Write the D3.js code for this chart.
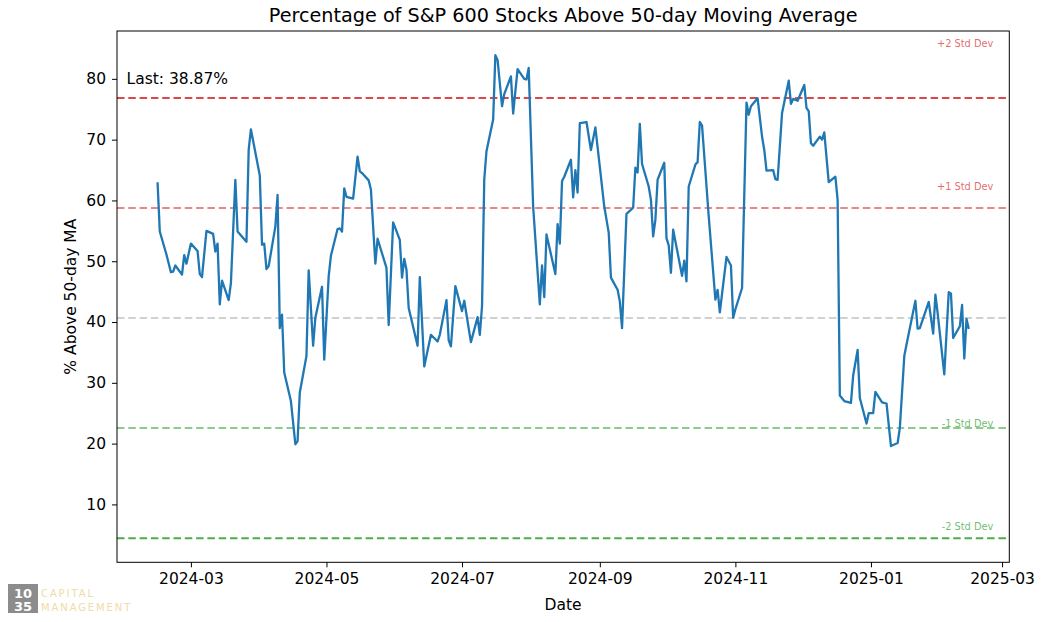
<!DOCTYPE html>
<html>
<head>
<meta charset="utf-8">
<script src="https://cdn.jsdelivr.net/npm/d3@7"></script>
<style>
  body { margin: 0; background: #fff; }
  svg text { font-family: "DejaVu Sans", sans-serif; }
</style>
</head>
<body>
<div class="graph"></div>
<script>
// values
const dates = [
  "2024-02-15","2024-02-16","2024-02-19","2024-02-21","2024-02-22","2024-02-23","2024-02-26","2024-02-27","2024-02-28",
  "2024-03-01","2024-03-04","2024-03-05","2024-03-06","2024-03-08","2024-03-11","2024-03-12","2024-03-13","2024-03-14",
  "2024-03-15","2024-03-18","2024-03-19","2024-03-21","2024-03-22","2024-03-26","2024-03-27","2024-03-28",
  "2024-04-01","2024-04-02","2024-04-03","2024-04-04","2024-04-05","2024-04-08","2024-04-09","2024-04-10","2024-04-11",
  "2024-04-12","2024-04-15","2024-04-17","2024-04-18","2024-04-19","2024-04-22","2024-04-23","2024-04-25","2024-04-26",
  "2024-04-29","2024-04-30","2024-05-02","2024-05-03","2024-05-06","2024-05-07","2024-05-08","2024-05-09","2024-05-10",
  "2024-05-13","2024-05-15","2024-05-16","2024-05-17","2024-05-20","2024-05-21","2024-05-23","2024-05-24","2024-05-28",
  "2024-05-29","2024-05-31","2024-06-03","2024-06-04","2024-06-05","2024-06-06","2024-06-07","2024-06-11","2024-06-12",
  "2024-06-14","2024-06-17","2024-06-20","2024-06-21","2024-06-24","2024-06-25","2024-06-26","2024-06-28",
  "2024-07-01","2024-07-02","2024-07-05","2024-07-08","2024-07-09","2024-07-10","2024-07-11","2024-07-12","2024-07-15",
  "2024-07-16","2024-07-17","2024-07-19","2024-07-20","2024-07-23","2024-07-24","2024-07-26","2024-07-29","2024-07-30",
  "2024-07-31","2024-08-02","2024-08-05","2024-08-06","2024-08-07","2024-08-08","2024-08-12","2024-08-13","2024-08-14",
  "2024-08-15","2024-08-16","2024-08-19","2024-08-20","2024-08-21","2024-08-22","2024-08-23","2024-08-26","2024-08-28",
  "2024-08-30","2024-09-03","2024-09-05","2024-09-06","2024-09-09","2024-09-10","2024-09-11","2024-09-13","2024-09-16",
  "2024-09-17","2024-09-18","2024-09-19","2024-09-20","2024-09-23","2024-09-24","2024-09-25","2024-09-26","2024-09-27",
  "2024-09-30","2024-10-01","2024-10-02","2024-10-03","2024-10-04","2024-10-08","2024-10-09","2024-10-10","2024-10-11",
  "2024-10-14","2024-10-15","2024-10-16","2024-10-17","2024-10-20","2024-10-23","2024-10-24","2024-10-25","2024-10-28",
  "2024-10-30","2024-10-31","2024-11-01","2024-11-04","2024-11-06","2024-11-07","2024-11-08","2024-11-11","2024-11-13",
  "2024-11-14","2024-11-15","2024-11-18","2024-11-19","2024-11-20","2024-11-22","2024-11-25","2024-11-26","2024-11-27",
  "2024-11-29","2024-12-02","2024-12-03","2024-12-04","2024-12-05","2024-12-06","2024-12-09","2024-12-10","2024-12-11",
  "2024-12-13","2024-12-16","2024-12-17","2024-12-18","2024-12-20","2024-12-23","2024-12-24","2024-12-26","2024-12-27",
  "2024-12-30","2024-12-31","2025-01-02","2025-01-03","2025-01-06","2025-01-08","2025-01-10","2025-01-13","2025-01-14",
  "2025-01-16","2025-01-17","2025-01-21","2025-01-22","2025-01-23","2025-01-27","2025-01-29","2025-01-30","2025-01-31",
  "2025-02-03","2025-02-05","2025-02-06","2025-02-07","2025-02-10","2025-02-11","2025-02-12","2025-02-13","2025-02-14"
];
const pctAbove = [
  63.0,54.9,51.1,48.2,48.3,49.3,47.8,51.0,49.6,
  52.9,51.7,47.9,47.4,55.0,54.5,51.6,52.9,42.9,
  46.8,43.6,46.4,63.4,54.9,53.2,68.3,71.7,
  64.1,52.7,52.9,48.7,49.2,55.7,60.9,39.0,41.2,
  31.7,27.0,19.9,20.4,28.4,34.4,48.5,36.1,40.7,
  45.8,33.8,47.5,50.9,55.3,55.4,54.9,62.0,60.6,
  60.3,67.2,64.8,64.5,63.3,61.8,49.6,53.7,48.9,
  39.5,56.4,53.5,47.3,50.4,48.6,42.3,36.1,47.4,
  32.7,37.9,36.8,37.9,43.6,37.0,36.0,45.9,
  41.8,43.5,36.7,40.8,37.9,42.6,63.4,68.1,73.3,
  83.9,83.1,75.5,77.5,80.4,74.3,81.6,80.0,79.9,
  81.8,59.0,42.9,49.3,44.1,54.4,47.9,56.1,52.9,
  63.2,63.9,66.7,60.5,65.0,61.3,72.7,72.9,68.3,
  72.0,59.0,54.7,47.3,45.3,43.4,39.0,57.8,58.8,
  65.4,64.6,72.6,66.0,62.3,60.1,54.1,56.8,63.4,
  66.2,53.8,52.6,48.1,55.2,47.6,50.1,46.7,62.3,
  65.9,66.3,72.9,72.3,57.4,43.7,45.3,41.6,50.7,
  49.3,40.7,42.1,45.6,76.1,74.1,75.5,76.8,70.5,
  68.3,64.9,65.0,63.5,63.4,74.4,79.7,75.9,76.7,
  76.4,79.0,75.2,74.7,69.4,69.0,70.5,70.0,71.2,
  63.0,63.9,60.1,27.9,27.0,26.7,31.2,35.4,27.5,
  23.3,25.0,25.0,28.5,26.8,26.6,19.6,20.1,22.6,
  34.4,36.3,43.5,38.9,39.0,43.3,38.1,44.5,41.5,
  31.4,44.9,44.7,37.4,39.3,42.8,34.0,40.5,38.87
];
const meanPct = 40.65;
const stdPct = 18.1;
const bandK = [2, 1, 0, -1, -2];
const bandNames = ["+2 Std Dev", "+1 Std Dev", "", "-1 Std Dev", "-2 Std Dev"];
const bandLabelAt = [85.3, 61.7, null, 22.7, 5.8];
const yTicks = [10, 20, 30, 40, 50, 60, 70, 80];

const W = 1044, H = 622;
const margin = {top: 31, right: 34.7, bottom: 59.7, left: 117};
const w = W - margin.left - margin.right;
const h = H - margin.top - margin.bottom;

const parse = d3.utcParse("%Y-%m-%d");
const series = dates.map((d, i) => ({date: parse(d), value: pctAbove[i]}));

// matplotlib style 5% margins
const xExt = d3.extent(series, d => d.date);
const xPad = (xExt[1] - xExt[0]) * 0.05;
const yLo = Math.min(d3.min(pctAbove), meanPct - 2 * stdPct);
const yHi = Math.max(d3.max(pctAbove), meanPct + 2 * stdPct);
const yPad = (yHi - yLo) * 0.05;

const xScale = d3.scaleUtc()
  .domain([new Date(+xExt[0] - xPad), new Date(+xExt[1] + xPad)])
  .range([0, w]);
const yScale = d3.scaleLinear()
  .domain([yLo - yPad, yHi + yPad])
  .range([h, 0]);

const svg = d3.select(".graph").append("svg")
  .attr("width", W).attr("height", H);

const g = svg.append("g")
  .attr("transform", "translate(" + margin.left + "," + margin.top + ")");

const bandColor = ["#d62728", "#d62728", "#999999", "#2ca02c", "#2ca02c"];
const bandAlpha = [0.85, 0.55, 0.45, 0.55, 0.85];

bandK.forEach((k, i) => {
  const yv = yScale(meanPct + k * stdPct);
  g.append("line")
    .attr("x1", 0).attr("x2", w)
    .attr("y1", yv).attr("y2", yv)
    .attr("stroke", bandColor[i])
    .attr("stroke-opacity", bandAlpha[i])
    .attr("stroke-width", 2)
    .attr("stroke-dasharray", "7.5,3.8");
  if (bandNames[i]) {
    g.append("text")
      .attr("x", w - 16)
      .attr("y", yScale(bandLabelAt[i]))
      .attr("text-anchor", "end")
      .attr("font-size", 9.8)
      .attr("fill", bandColor[i])
      .attr("fill-opacity", 0.7)
      .text(bandNames[i]);
  }
});

const line = d3.line()
  .x(d => xScale(d.date))
  .y(d => yScale(d.value));

g.append("path")
  .datum(series)
  .attr("fill", "none")
  .attr("stroke", "#1f77b4")
  .attr("stroke-width", 2.3)
  .attr("stroke-linejoin", "round")
  .attr("d", line);

// frame
g.append("rect")
  .attr("width", w).attr("height", h)
  .attr("fill", "none")
  .attr("stroke", "#000")
  .attr("stroke-width", 1);

const xAxis = d3.axisBottom(xScale)
  .ticks(d3.utcMonth.every(2))
  .tickFormat(d3.utcFormat("%Y-%m"))
  .tickSize(5).tickPadding(6);
const yAxis = d3.axisLeft(yScale)
  .tickValues(yTicks)
  .tickSize(5).tickPadding(6);

const gx = g.append("g")
  .attr("transform", "translate(0," + h + ")")
  .call(xAxis);
const gy = g.append("g").call(yAxis);

[gx, gy].forEach(a => {
  a.select(".domain").remove();
  a.selectAll("text")
    .attr("font-family", "DejaVu Sans")
    .attr("font-size", 15.5)
    .attr("fill", "#000");
  a.selectAll("line").attr("stroke", "#000");
});

g.append("text")
  .attr("x", 9.5)
  .attr("y", 52.5)
  .attr("font-size", 15.5)
  .text("Last: " + pctAbove[pctAbove.length - 1].toFixed(2) + "%");

svg.append("text")
  .attr("x", margin.left + w / 2)
  .attr("y", 22)
  .attr("text-anchor", "middle")
  .attr("font-size", 19.2)
  .text("Percentage of S&P 600 Stocks Above 50-day Moving Average");

svg.append("text")
  .attr("x", margin.left + w / 2)
  .attr("y", 610)
  .attr("text-anchor", "middle")
  .attr("font-size", 15.5)
  .text("Date");

svg.append("text")
  .attr("transform", "rotate(-90)")
  .attr("x", -(margin.top + h / 2))
  .attr("y", 76)
  .attr("text-anchor", "middle")
  .attr("font-size", 15.5)
  .text("% Above 50-day MA");

// watermark logo
const logo = svg.append("g").attr("transform", "translate(8,584)");
logo.append("rect").attr("width", 30).attr("height", 29).attr("fill", "#8c8c8c");
logo.append("text").attr("x", 15).attr("y", 13.5).attr("text-anchor", "middle")
  .attr("font-family", "DejaVu Serif").attr("font-weight", "bold")
  .attr("font-size", 13).attr("fill", "#fff").text("10");
logo.append("text").attr("x", 15).attr("y", 27).attr("text-anchor", "middle")
  .attr("font-family", "DejaVu Serif").attr("font-weight", "bold")
  .attr("font-size", 13).attr("fill", "#fff").text("35");
logo.append("text").attr("x", 33).attr("y", 13)
  .attr("font-family", "DejaVu Sans Mono").attr("font-size", 10)
  .attr("letter-spacing", 1.9).attr("fill", "#efdca6").text("CAPITAL");
logo.append("text").attr("x", 33).attr("y", 27)
  .attr("font-family", "DejaVu Sans Mono").attr("font-size", 10)
  .attr("letter-spacing", 1.9).attr("fill", "#efdca6").text("MANAGEMENT");
</script>
</body>
</html>
